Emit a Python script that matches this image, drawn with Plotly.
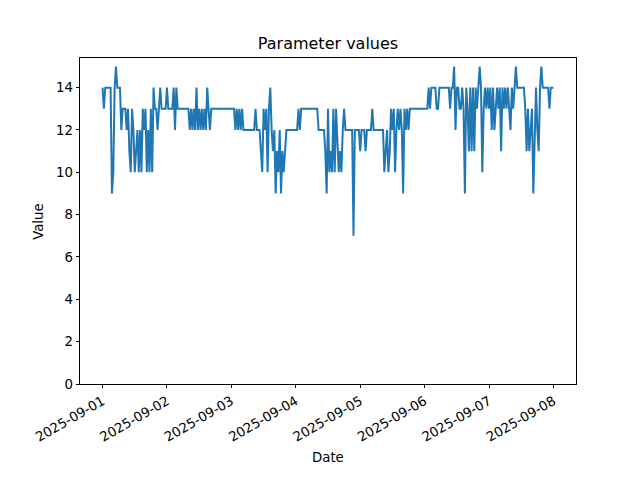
import pandas as pd
import plotly.graph_objects as go

# Values, 30-minute samples, one list per day
day1 = [14, 13, 14, 14, 14, 14, 14, 9, 10, 14, 15, 14, 14, 14, 12, 13, 13,
        13, 12, 13, 11, 10, 13, 12, 10, 11, 12, 10, 12, 10, 13, 12, 13, 10, 12, 10,
        13, 10, 14, 13, 13, 12, 13, 14, 13, 13, 13, 13]
day2 = [14, 13, 13, 13, 13, 14, 12, 14, 13] + [13] * 8 + \
       [12, 13, 12, 13, 12, 14, 12, 13, 12, 13, 12, 13, 12, 14, 13, 12] + [13] * 15
day3 = [13, 13, 13, 12, 13, 12, 13, 12, 13] + [12] * 9 + [13, 12, 12, 12] + \
       [11, 10, 13, 12, 13, 10, 13, 14, 12, 11, 12, 9, 11, 10, 12, 9, 11, 10, 11, 12] + [12] * 6
day4 = [12, 12, 13, 12, 13] + [13] * 12 + [12] * 5 + \
       [11, 9, 13, 10, 11, 10, 13, 10, 13, 11, 10, 11, 10, 12, 13, 12] + [12] * 5 + [7] + [12] * 4
day5 = [11, 12, 12, 12, 11, 12, 12, 12, 12, 13] + [12] * 8 + \
       [10, 11, 12, 10, 11, 13, 12, 13, 10, 12, 13, 12, 13, 12, 9, 13, 12, 13, 12, 13] + [13] * 10
day6 = [13, 13, 13, 14, 13, 14, 14, 14, 14, 13, 13, 14] + [14] * 7 + [13, 14, 14] + \
       [15, 12, 14, 14, 13, 13, 14, 13, 9, 14, 13, 11, 14, 11, 14, 11, 14, 13, 14, 15,
        14, 10, 13, 14, 13, 14]
day7 = [13, 14, 12, 14, 12, 13, 14, 13, 14, 11, 14, 13, 14, 13, 14, 13, 12, 14, 13, 14, 15, 14] + \
       [14] * 5 + [13, 11, 13, 11, 12, 13, 9, 12, 14, 12, 11, 14, 15, 14, 14, 14, 14, 14, 13, 14, 14]
last_value = [14]

values = day1 + day2 + day3 + day4 + day5 + day6 + day7 + last_value
dates = pd.date_range("2025-09-01", periods=len(values), freq="30min")

tick_vals = pd.date_range("2025-09-01", "2025-09-08", freq="D")
y_ticks = [0, 2, 4, 6, 8, 10, 12, 14]

span = dates[-1] - dates[0]
x_range = [dates[0] - 0.05 * span, dates[-1] + 0.05 * span]

font = "DejaVu Sans"
fig = go.Figure()
fig.add_trace(go.Scatter(x=dates, y=values, mode="lines",
                         line=dict(color="#1f77b4", width=2), showlegend=False))

fig.update_layout(
    width=640, height=480, autosize=False,
    margin=dict(l=72, r=72, t=49.6, b=104),
    paper_bgcolor="white", plot_bgcolor="white",
    font=dict(family=font, size=13.3, color="black"),
    title=dict(text="Parameter values", x=0.5, xanchor="center",
               yref="container", y=1 - 35 / 480, yanchor="middle",
               font=dict(family=font, size=16, color="black")),
)
fig.update_xaxes(
    type="date", range=x_range, tickvals=tick_vals, tickformat="%Y-%m-%d",
    tickangle=-30, ticks="outside", ticklen=3.5, tickwidth=0.8, tickcolor="black",
    showline=True, linecolor="black", linewidth=0.8, mirror=True,
    showgrid=False, zeroline=False, automargin=False,
)
fig.update_yaxes(
    range=[0, 15.4], tickvals=y_ticks, ticks="outside", ticklen=3.5, tickwidth=0.8,
    tickcolor="black", showline=True, linecolor="black", linewidth=0.8, mirror=True,
    showgrid=False, zeroline=False, automargin=False,
)
fig.add_annotation(text="Date", xref="paper", yref="paper", x=0.5, y=-0.224,
                   xanchor="center", yanchor="middle", showarrow=False,
                   font=dict(family=font, size=13.3))
fig.add_annotation(text="Value", xref="paper", yref="paper", x=-0.085, y=0.5,
                   xanchor="center", yanchor="middle", textangle=-90, showarrow=False,
                   font=dict(family=font, size=13.3))

fig.write_html("out.html")
